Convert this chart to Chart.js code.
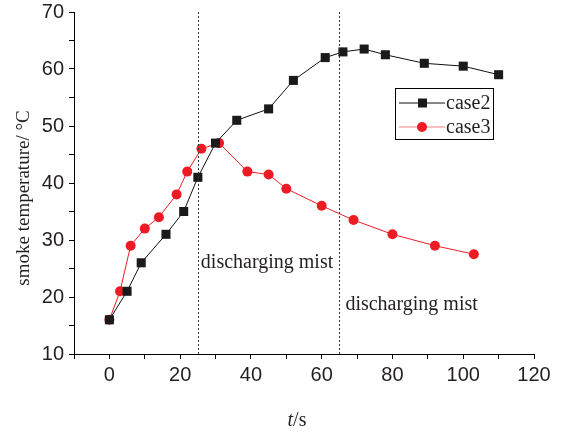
<!DOCTYPE html>
<html>
<head>
<meta charset="utf-8">
<script src="https://cdn.jsdelivr.net/npm/chart.js@4/dist/chart.umd.min.js"></script>
<style>
  html, body { margin: 0; padding: 0; background: #fff; }
  #wrap { width: 562px; height: 434px; }
</style>
</head>
<body>
<div id="wrap"><canvas id="c" width="562" height="434"></canvas></div>
<script>
// case2: black squares
const case2T = [0, 5, 9, 16, 21, 25, 30, 36, 45, 52, 61, 66, 72, 78, 89, 100, 110];
const case2Temp = [16, 21, 26, 31, 35, 41, 47, 51, 53, 58, 62, 63, 63.5, 62.5, 61, 60.5, 59];
// case3: red circles
const case3T = [0, 3, 6, 10, 14, 19, 22, 26, 31, 39, 45, 50, 60, 69, 80, 92, 103];
const case3Temp = [16, 21, 29, 32, 34, 38, 42, 46, 47, 42, 41.5, 39, 36, 33.5, 31, 29, 27.5];
// times when mist discharge starts
const mistTimes = [25, 65];
const mistLabel = 'discharging mist';

const RED = '#ed1c24';
const serif = '"Liberation Serif", "Times New Roman", serif';
const sans = '"Liberation Sans", Arial, sans-serif';

const toPoints = (xs, ys) => xs.map((x, i) => ({ x, y: ys[i] }));

// dotted marker lines, notes, axis titles and the boxed legend
const extras = {
  id: 'extras',
  afterDatasetsDraw(chart) {
    const { ctx, chartArea, scales } = chart;
    ctx.save();
    ctx.strokeStyle = '#333';
    ctx.lineWidth = 1;
    ctx.setLineDash([2, 2]);
    mistTimes.forEach((t) => {
      const px = Math.round(scales.x.getPixelForValue(t)) + 0.5;
      ctx.beginPath();
      ctx.moveTo(px, chartArea.top);
      ctx.lineTo(px, chartArea.bottom);
      ctx.stroke();
    });
    ctx.setLineDash([]);

    ctx.fillStyle = '#231f20';
    ctx.font = '20px ' + serif;
    ctx.textBaseline = 'alphabetic';
    ctx.textAlign = 'left';
    ctx.fillText(mistLabel, scales.x.getPixelForValue(mistTimes[0]) + 3, 268);
    ctx.fillText(mistLabel, scales.x.getPixelForValue(mistTimes[1]) + 6, 310);

    // y title
    ctx.save();
    ctx.translate(24, 198);
    ctx.rotate(-Math.PI / 2);
    ctx.textAlign = 'center';
    ctx.textBaseline = 'middle';
    ctx.font = '19px ' + serif;
    ctx.fillText('smoke temperature/ \u00B0C', 0, 0);
    ctx.restore();

    // x title: italic t, then /s
    ctx.textBaseline = 'middle';
    ctx.textAlign = 'left';
    ctx.font = 'italic 20px ' + serif;
    const tw = ctx.measureText('t').width;
    ctx.font = '20px ' + serif;
    const sw = ctx.measureText('/s').width;
    const x0 = 297 - (tw + sw) / 2;
    ctx.font = 'italic 20px ' + serif;
    ctx.fillText('t', x0, 421);
    ctx.font = '20px ' + serif;
    ctx.fillText('/s', x0 + tw, 421);

    // legend
    const bx = 395.5, by = 88.5, bw = 98, bh = 51;
    ctx.strokeStyle = '#000';
    ctx.lineWidth = 1;
    ctx.strokeRect(bx, by, bw, bh);
    chart.data.datasets.forEach((ds, i) => {
      const ly = 103 + i * 24;
      ctx.strokeStyle = ds.legendLine;
      ctx.lineWidth = 1;
      ctx.beginPath();
      ctx.moveTo(399, ly);
      ctx.lineTo(445, ly);
      ctx.stroke();
      ctx.fillStyle = ds.pointBackgroundColor;
      if (ds.pointStyle === 'rect') {
        ctx.fillRect(418, ly - 4.5, 9, 9);
      } else {
        ctx.beginPath();
        ctx.arc(422, ly, 5, 0, Math.PI * 2);
        ctx.fill();
      }
      ctx.fillStyle = '#231f20';
      ctx.font = '20px ' + serif;
      ctx.textBaseline = 'middle';
      ctx.fillText(ds.label, 446, ly + 1);
    });
    ctx.restore();
  }
};

new Chart(document.getElementById('c'), {
  type: 'scatter',
  data: {
    datasets: [
      {
        label: 'case2',
        data: toPoints(case2T, case2Temp),
        showLine: true,
        borderColor: '#111',
        borderWidth: 1,
        pointStyle: 'rect',
        pointRadius: 6.4,
        pointBorderWidth: 0,
        pointBackgroundColor: '#1a1a1a',
        legendLine: '#111',
      },
      {
        label: 'case3',
        data: toPoints(case3T, case3Temp),
        showLine: true,
        borderColor: RED,
        borderWidth: 1,
        pointStyle: 'circle',
        pointRadius: 5,
        pointBorderWidth: 0,
        pointBackgroundColor: RED,
        legendLine: '#f08080',
      },
    ],
  },
  options: {
    responsive: false,
    animation: false,
    layout: { padding: { left: 0, right: 28, top: 12, bottom: 0 } },
    plugins: { legend: { display: false }, tooltip: { enabled: false } },
    scales: {
      x: {
        type: 'linear',
        min: -10,
        max: 120,
        afterFit: (s) => { s.height = 80; s.paddingLeft = 0; s.paddingRight = 0; },
        border: { display: true, color: '#000', width: 1 },
        grid: { display: true, drawOnChartArea: false, drawTicks: true, tickLength: 5, color: '#000' },
        ticks: {
          stepSize: 10,
          padding: 4,
          maxRotation: 0,
          minRotation: 0,
          autoSkip: false,
          color: '#231f20',
          font: { family: sans, size: 20 },
          callback: (v) => (v % 20 === 0 ? v : ''),
        },
      },
      y: {
        min: 10,
        max: 70,
        afterFit: (s) => { s.width = 74; s.paddingTop = 0; s.paddingBottom = 0; },
        border: { display: true, color: '#000', width: 1 },
        grid: { display: true, drawOnChartArea: false, drawTicks: true, tickLength: 5, color: '#000' },
        ticks: {
          stepSize: 5,
          padding: 5,
          autoSkip: false,
          color: '#231f20',
          font: { family: sans, size: 20 },
          callback: (v) => (v % 10 === 0 ? v : ''),
        },
      },
    },
  },
  plugins: [extras],
});
</script>
</body>
</html>
